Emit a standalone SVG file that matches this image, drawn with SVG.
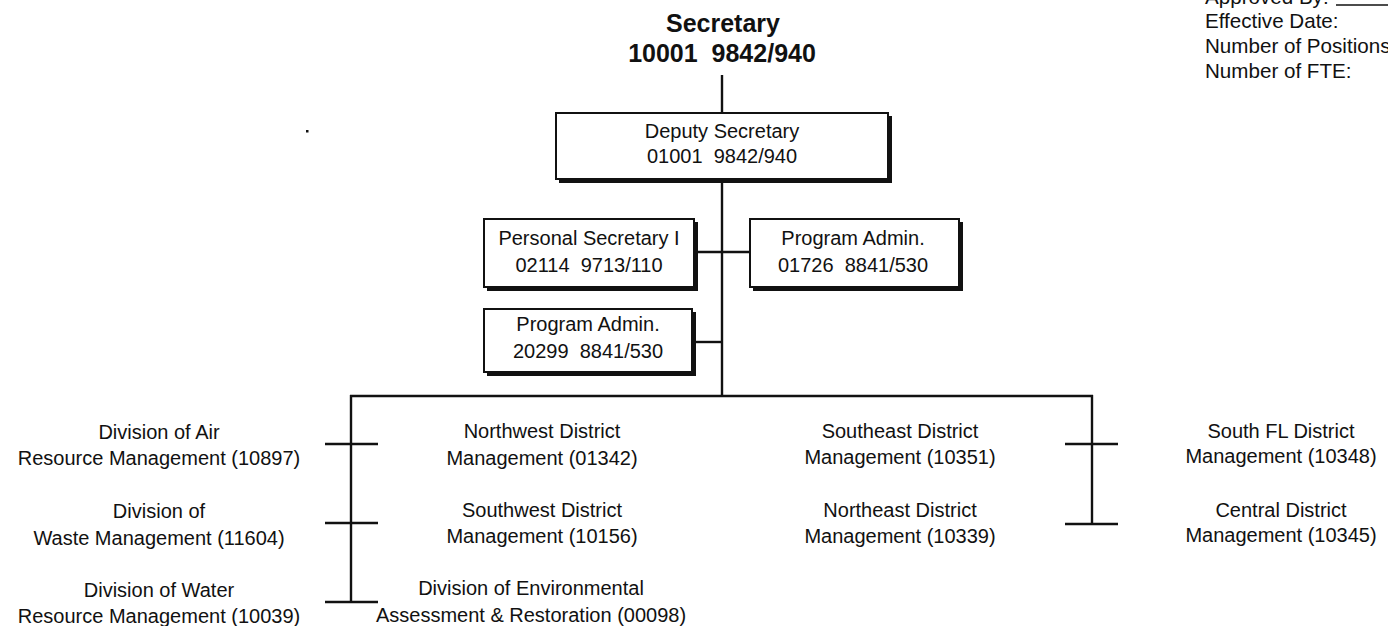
<svg xmlns="http://www.w3.org/2000/svg" width="1388" height="626" viewBox="0 0 1388 626">
  <style>
    .t { font-family: "Liberation Sans", Arial, sans-serif; font-size: 20px; fill: #111; text-anchor: middle; }
    .tl { font-family: "Liberation Sans", Arial, sans-serif; font-size: 20.6px; fill: #111; }
    .big { font-family: "Liberation Sans", Arial, sans-serif; font-size: 25px; font-weight: bold; fill: #111; text-anchor: middle; }
    .ln { stroke: #111; stroke-width: 2.4; fill: none; }
    .box { fill: #fff; stroke: #111; stroke-width: 2; }
    .shadow { fill: #111; }
  </style>

  <rect width="1388" height="626" fill="#fff"/>

  <!-- approval block, upper right -->
  <g id="approval">
    <text class="tl" x="1205" y="4">Approved By:</text>
    <line x1="1336" y1="5" x2="1388" y2="5" stroke="#111" stroke-width="1.5"/>
    <text class="tl" x="1205" y="28">Effective Date:</text>
    <text class="tl" x="1205" y="53">Number of Positions</text>
    <text class="tl" x="1205" y="78">Number of FTE:</text>
  </g>

  <!-- connectors -->
  <g id="connectors">
    <line class="ln" x1="722" y1="75" x2="722" y2="112"/>
    <line class="ln" x1="722" y1="180" x2="722" y2="397"/>
    <line class="ln" x1="694" y1="252" x2="749" y2="252"/>
    <line class="ln" x1="692" y1="342" x2="722" y2="342"/>
    <line class="ln" x1="350" y1="396" x2="1093" y2="396"/>
    <line class="ln" x1="351" y1="395" x2="351" y2="603"/>
    <line class="ln" x1="325" y1="444" x2="378" y2="444"/>
    <line class="ln" x1="325" y1="523" x2="378" y2="523"/>
    <line class="ln" x1="325" y1="602" x2="378" y2="602"/>
    <line class="ln" x1="1092" y1="395" x2="1092" y2="524"/>
    <line class="ln" x1="1065" y1="444" x2="1118" y2="444"/>
    <line class="ln" x1="1065" y1="524" x2="1118" y2="524"/>
  </g>

  <g id="secretary">
    <text class="big" x="723" y="32">Secretary</text>
    <text class="big" x="722" y="62" xml:space="preserve">10001  9842/940</text>
  </g>

  <g id="deputy-secretary">
    <rect class="shadow" x="559" y="116" width="333" height="67"/>
    <rect class="box" x="556" y="113" width="332" height="66"/>
    <text class="t" x="722" y="138">Deputy Secretary</text>
    <text class="t" x="722" y="163" xml:space="preserve">01001  9842/940</text>
  </g>

  <g id="personal-secretary">
    <rect class="shadow" x="487" y="222" width="211" height="69"/>
    <rect class="box" x="484" y="219" width="210" height="68"/>
    <text class="t" x="589" y="245">Personal Secretary I</text>
    <text class="t" x="589" y="272" xml:space="preserve">02114  9713/110</text>
  </g>

  <g id="program-admin-01726">
    <rect class="shadow" x="753" y="222" width="210" height="69"/>
    <rect class="box" x="750" y="219" width="209" height="68"/>
    <text class="t" x="853" y="245">Program Admin.</text>
    <text class="t" x="853" y="272" xml:space="preserve">01726  8841/530</text>
  </g>

  <g id="program-admin-20299">
    <rect class="shadow" x="487" y="312" width="209" height="64"/>
    <rect class="box" x="484" y="309" width="208" height="63"/>
    <text class="t" x="588" y="331">Program Admin.</text>
    <text class="t" x="588" y="358" xml:space="preserve">20299  8841/530</text>
  </g>

  <g id="air-resource">
    <text class="t" x="159" y="439">Division of Air</text>
    <text class="t" x="159" y="465">Resource Management (10897)</text>
  </g>
  <g id="waste-management">
    <text class="t" x="159" y="518">Division of</text>
    <text class="t" x="159" y="545">Waste Management (11604)</text>
  </g>
  <g id="water-resource">
    <text class="t" x="159" y="597">Division of Water</text>
    <text class="t" x="159" y="623">Resource Management (10039)</text>
  </g>

  <g id="northwest-district">
    <text class="t" x="542" y="438">Northwest District</text>
    <text class="t" x="542" y="465">Management (01342)</text>
  </g>
  <g id="southwest-district">
    <text class="t" x="542" y="517">Southwest District</text>
    <text class="t" x="542" y="543">Management (10156)</text>
  </g>
  <g id="environmental-assessment">
    <text class="t" x="531" y="595">Division of Environmental</text>
    <text class="t" x="531" y="622">Assessment &amp; Restoration (00098)</text>
  </g>

  <g id="southeast-district">
    <text class="t" x="900" y="438">Southeast District</text>
    <text class="t" x="900" y="464">Management (10351)</text>
  </g>
  <g id="northeast-district">
    <text class="t" x="900" y="517">Northeast District</text>
    <text class="t" x="900" y="543">Management (10339)</text>
  </g>

  <g id="south-fl-district">
    <text class="t" x="1281" y="438">South FL District</text>
    <text class="t" x="1281" y="463">Management (10348)</text>
  </g>
  <g id="central-district">
    <text class="t" x="1281" y="517">Central District</text>
    <text class="t" x="1281" y="542">Management (10345)</text>
  </g>

  <!-- small mark left of the deputy box -->
  <rect x="306" y="130" width="2.5" height="2.5" fill="#111"/>
</svg>
